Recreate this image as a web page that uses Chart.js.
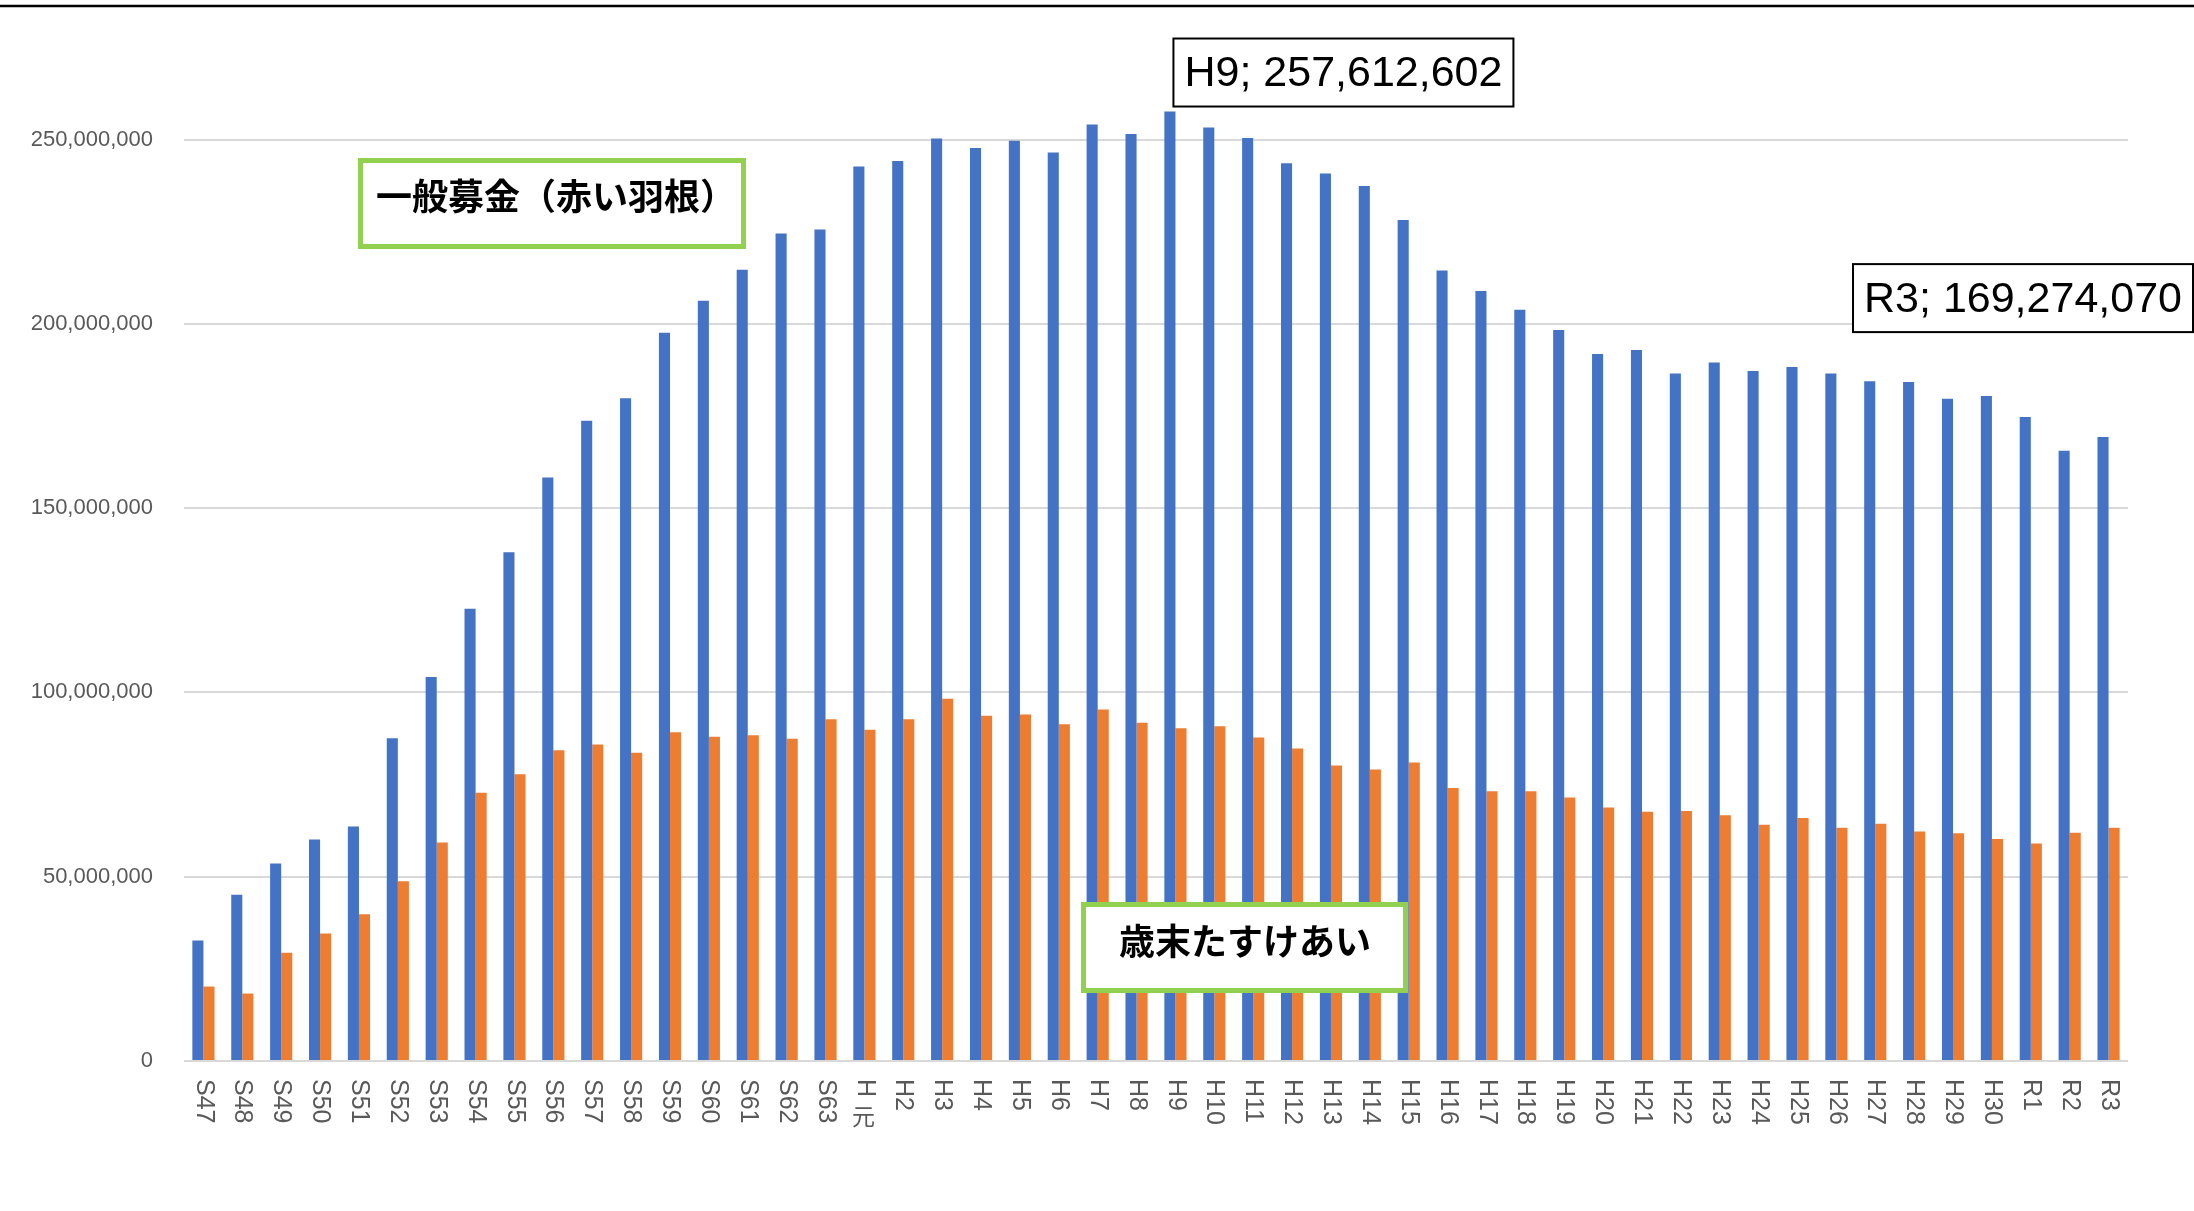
<!DOCTYPE html>
<html><head><meta charset="utf-8">
<script src="https://cdn.jsdelivr.net/npm/chart.js@4.4.1/dist/chart.umd.min.js"></script>
<style>html,body{margin:0;padding:0;background:#fff;}canvas{display:block;}</style>
</head><body>
<canvas id="c" width="2194" height="1211"></canvas>
<script>
const categories = ['S47','S48','S49','S50','S51','S52','S53','S54','S55','S56','S57','S58','S59','S60','S61','S62','S63',
  'H元','H2','H3','H4','H5','H6','H7','H8','H9','H10','H11','H12','H13','H14','H15','H16','H17','H18','H19','H20',
  'H21','H22','H23','H24','H25','H26','H27','H28','H29','H30','R1','R2','R3'];
const seriesNames = ['一般募金（赤い羽根）', '歳末たすけあい'];
const generalFund = [32700000,45100000,53600000,60100000,63600000,87600000,104200000,122700000,138000000,158300000,
  173700000,179800000,197600000,206300000,214700000,224500000,225600000,
  242700000,244200000,250300000,247700000,249700000,246500000,254100000,251500000,257612602,253300000,250400000,
  243600000,240800000,237400000,228200000,214500000,208900000,203800000,198300000,191800000,192900000,186500000,
  189500000,187200000,188300000,186500000,184400000,184200000,179700000,180400000,174700000,165600000,169274070];
const yearEndFund = [20200000,18300000,29400000,34600000,39800000,48800000,59300000,72800000,77800000,84300000,
  85900000,83600000,89200000,88000000,88400000,87400000,92700000,
  89900000,92700000,98300000,93700000,94000000,91400000,95400000,91800000,90300000,90800000,87800000,
  84800000,80200000,79100000,81000000,74100000,73200000,73200000,71500000,68800000,67600000,67800000,
  66700000,64100000,65900000,63300000,64400000,62300000,61800000,60200000,59000000,61900000,63300000];
const yTickValues = [0,50000000,100000000,150000000,200000000,250000000];
const calloutCategories = ['H9','R3'];

const fmt = v => Number(v).toLocaleString('en-US');

const decor = {
  id: 'decor',
  beforeDraw(chart) {
    const ctx = chart.ctx;
    ctx.save(); ctx.fillStyle = '#fff'; ctx.fillRect(0, 0, chart.width, chart.height); ctx.restore();
  },
  afterDraw(chart) {
    const ctx = chart.ctx, xs = chart.scales.x, ys = chart.scales.y;
    ctx.save();
    // top rule
    ctx.strokeStyle = '#000'; ctx.lineWidth = 2.5;
    ctx.beginPath(); ctx.moveTo(0, 6); ctx.lineTo(chart.width, 6); ctx.stroke();

    // category labels, written top-to-bottom
    const latinFont = '25px "Liberation Sans", Arial, sans-serif';
    const cjkFont = '23px "Noto Sans CJK JP", sans-serif';
    ctx.fillStyle = '#595959';
    categories.forEach((lab, i) => {
      const x = xs.getPixelForValue(i);
      let y = xs.top + 18;
      let run = '';
      const flush = () => {
        if (!run) return;
        ctx.save(); ctx.font = latinFont; ctx.translate(x, y); ctx.rotate(Math.PI / 2);
        ctx.textAlign = 'left'; ctx.textBaseline = 'middle'; ctx.fillText(run, 0, 0);
        y += ctx.measureText(run).width; ctx.restore(); run = '';
      };
      for (const ch of lab) {
        if (ch.charCodeAt(0) > 0x2e80) {
          flush();
          ctx.save(); ctx.font = cjkFont; ctx.textAlign = 'center'; ctx.textBaseline = 'top';
          ctx.fillText(ch, x - 1, y + 8); ctx.restore(); y += 30;
        } else run += ch;
      }
      flush();
    });

    // green series label boxes
    const greenBox = (x1, y1, x2, y2, text, tx, ty) => {
      const lw = 5;
      ctx.fillStyle = '#fff'; ctx.fillRect(x1, y1, x2 - x1, y2 - y1);
      ctx.strokeStyle = '#92D050'; ctx.lineWidth = lw;
      ctx.strokeRect(x1 + lw / 2, y1 + lw / 2, x2 - x1 - lw, y2 - y1 - lw);
      ctx.fillStyle = '#000'; ctx.font = 'bold 36px "Noto Sans CJK JP", sans-serif';
      ctx.textAlign = 'center'; ctx.textBaseline = 'middle';
      ctx.fillText(text, tx, ty);
    };
    greenBox(358, 158, 746, 249, seriesNames[0], 556, 196);
    greenBox(1081, 902, 1408, 993, seriesNames[1], 1245, 941);

    // value callouts
    ctx.font = '43px "Liberation Sans", Arial, sans-serif';
    calloutCategories.forEach((cat, k) => {
      const i = categories.indexOf(cat);
      const v = generalFund[i];
      const text = cat + '; ' + fmt(v);
      const w = ctx.measureText(text).width + 22;
      const h = 68;
      const bx = xs.getPixelForValue(i);
      const by = ys.getPixelForValue(v);
      let x1, y1;
      if (k === 0) { x1 = bx - 2; y1 = by - 5 - h; }
      else { x1 = chart.width - 1 - w; y1 = by - 105 - h; }
      ctx.fillStyle = '#fff'; ctx.fillRect(x1, y1, w, h);
      ctx.strokeStyle = '#000'; ctx.lineWidth = 2; ctx.strokeRect(x1, y1, w, h);
      ctx.fillStyle = '#000'; ctx.textAlign = 'center'; ctx.textBaseline = 'middle';
      ctx.fillText(text, x1 + w / 2, y1 + h / 2 + 2);
    });
    ctx.restore();
  }
};

new Chart(document.getElementById('c'), {
  type: 'bar',
  data: {
    labels: categories,
    datasets: [
      { label: seriesNames[0], data: generalFund, backgroundColor: '#4472C4', borderWidth: 0,
        categoryPercentage: 0.57, barPercentage: 1.0 },
      { label: seriesNames[1], data: yearEndFund, backgroundColor: '#ED7D31', borderWidth: 0,
        categoryPercentage: 0.57, barPercentage: 1.0 }
    ]
  },
  options: {
    responsive: false, animation: false, devicePixelRatio: 1,
    layout: { padding: { left: 0, right: 66, top: 29, bottom: 0 } },
    plugins: { legend: { display: false }, tooltip: { enabled: false } },
    scales: {
      x: {
        afterFit(s) { s.height = 150; s.paddingLeft = 0; s.paddingRight = 0; },
        grid: { display: false, drawTicks: false },
        border: { display: false },
        ticks: { display: false }
      },
      y: {
        min: 0, max: 280000000,
        afterBuildTicks(s) { s.ticks = yTickValues.map(v => ({ value: v })); },
        afterFit(s) { s.width = 184; s.paddingTop = 0; s.paddingBottom = 0; },
        grid: { color: '#d9d9d9', lineWidth: 2, drawTicks: false },
        border: { display: false },
        ticks: { padding: 31, color: '#595959', font: { family: '"Liberation Sans", Arial, sans-serif', size: 22 },
          callback: v => fmt(v) }
      }
    }
  },
  plugins: [decor]
});
</script>
</body></html>
